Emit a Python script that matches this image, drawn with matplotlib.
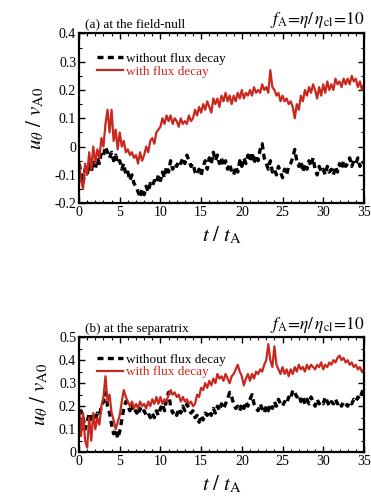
import matplotlib
matplotlib.use("Agg")
import matplotlib.pyplot as plt
from matplotlib.ticker import MultipleLocator
import numpy as np

plt.rcParams['font.family'] = ['Liberation Serif', 'DejaVu Serif']
plt.rcParams['mathtext.fontset'] = 'stix'

# (a) at the field-null, sampled every 0.25 t_A
null_with = [
    -0.05, -0.12, -0.15, -0.06,  -0.10, -0.02, -0.08, 0.00,
    -0.06, -0.01, -0.04, 0.03,   0.00, 0.08, 0.13, 0.05,
    0.13, 0.02, 0.06, -0.01,     0.05, 0.00, 0.02, -0.02,
    -0.01, -0.03, -0.02, -0.04,  -0.03, -0.06, -0.02, -0.05,
    -0.03, 0.00, -0.02, 0.02,    0.03, 0.01, 0.05, 0.06,
    0.07, 0.10, 0.08, 0.11,      0.09, 0.11, 0.08, 0.10,
    0.09, 0.07, 0.10, 0.08,      0.09, 0.08, 0.11, 0.09,
    0.10, 0.13, 0.11, 0.14,      0.12, 0.15, 0.13, 0.16,
    0.14, 0.12, 0.17, 0.15,      0.17, 0.14, 0.18, 0.16,
    0.19, 0.16, 0.18, 0.15,      0.18, 0.16, 0.19, 0.17,
    0.20, 0.17, 0.19, 0.18,      0.20, 0.18, 0.21, 0.19,
    0.20, 0.19, 0.22, 0.20,      0.21, 0.19, 0.27, 0.21,
    0.20, 0.18, 0.19, 0.16,      0.18, 0.16, 0.17, 0.15,
    0.16, 0.14, 0.10, 0.15,      0.13, 0.18, 0.16, 0.20,
    0.18, 0.21, 0.19, 0.22,      0.20, 0.17, 0.21, 0.18,
    0.22, 0.19, 0.23, 0.20,      0.22, 0.20, 0.24, 0.22,
    0.23, 0.21, 0.24, 0.22,      0.24, 0.22, 0.25, 0.23,
    0.24, 0.21, 0.23, 0.20,      0.22]
null_without = [
    -0.06, -0.09, -0.13, -0.08,  -0.10, -0.06, -0.09, -0.05,
    -0.08, -0.04, -0.06, -0.02,  -0.03, 0.00, -0.02, -0.04,
    -0.02, -0.05, -0.03, -0.06,  -0.05, -0.08, -0.06, -0.10,
    -0.09, -0.12, -0.10, -0.13,  -0.14, -0.16, -0.18, -0.15,
    -0.17, -0.14, -0.16, -0.13,  -0.14, -0.12, -0.13, -0.10,
    -0.12, -0.09, -0.11, -0.07,  -0.09, -0.05, -0.08, -0.06,
    -0.07, -0.05, -0.06, -0.04,  -0.06, -0.03, -0.05, -0.07,
    -0.06, -0.09, -0.10, -0.08,  -0.10, -0.07, -0.05, -0.08,
    -0.04, -0.06, -0.02, -0.05,  -0.03, -0.06, -0.04, -0.07,
    -0.05, -0.08, -0.06, -0.09,  -0.10, -0.07, -0.09, -0.05,
    -0.07, -0.04, -0.06, -0.03,  -0.05, -0.02, -0.06, -0.03,
    -0.05, -0.01, 0.01, -0.04,   -0.06, -0.08, -0.05, -0.09,
    -0.08, -0.10, -0.07, -0.09,  -0.11, -0.08, -0.10, -0.07,
    -0.06, -0.04, -0.01, -0.05,  -0.07, -0.05, -0.09, -0.06,
    -0.08, -0.05, -0.07, -0.04,  -0.08, -0.10, -0.07, -0.09,
    -0.08, -0.10, -0.07, -0.09,  -0.08, -0.10, -0.07, -0.09,
    -0.06, -0.08, -0.05, -0.07,  -0.06, -0.04, -0.07, -0.05,
    -0.06, -0.04, -0.07, -0.05,  -0.06]

# (b) at the separatrix
sep_with = [
    0.20, 0.07, 0.17, 0.05,  0.02, 0.15, 0.05, 0.17,
    0.10, 0.15, 0.12, 0.20,  0.24, 0.33, 0.22, 0.25,
    0.17, 0.14, 0.10, 0.13,  0.16, 0.22, 0.27, 0.24,
    0.22, 0.20, 0.22, 0.19,  0.21, 0.19, 0.22, 0.20,
    0.21, 0.19, 0.22, 0.20,  0.23, 0.21, 0.24, 0.21,
    0.24, 0.21, 0.23, 0.22,  0.25, 0.27, 0.25, 0.26,
    0.24, 0.25, 0.22, 0.24,  0.22, 0.23, 0.21, 0.22,
    0.20, 0.21, 0.25, 0.24,  0.28, 0.27, 0.30, 0.28,
    0.31, 0.29, 0.32, 0.30,  0.34, 0.32, 0.33, 0.31,
    0.34, 0.32, 0.30, 0.33,  0.34, 0.36, 0.38, 0.35,
    0.33, 0.29, 0.32, 0.34,  0.31, 0.34, 0.32, 0.35,
    0.34, 0.36, 0.35, 0.38,  0.40, 0.47, 0.40, 0.37,
    0.46, 0.38, 0.36, 0.34,  0.37, 0.34, 0.36, 0.33,
    0.36, 0.34, 0.37, 0.35,  0.38, 0.36, 0.37, 0.35,
    0.38, 0.36, 0.38, 0.37,  0.36, 0.38, 0.37, 0.39,
    0.36, 0.38, 0.37, 0.39,  0.38, 0.40, 0.39, 0.41,
    0.42, 0.40, 0.41, 0.39,  0.40, 0.38, 0.39, 0.37,
    0.38, 0.36, 0.37, 0.35,  0.36]
sep_without = [
    0.12, 0.18, 0.15, 0.10,  0.13, 0.17, 0.13, 0.16,
    0.14, 0.17, 0.16, 0.20,  0.22, 0.26, 0.20, 0.17,
    0.12, 0.08, 0.10, 0.06,  0.09, 0.14, 0.19, 0.22,
    0.20, 0.18, 0.21, 0.17,  0.18, 0.16, 0.19, 0.17,
    0.18, 0.16, 0.17, 0.15,  0.17, 0.15, 0.18, 0.16,
    0.19, 0.21, 0.18, 0.23,  0.26, 0.20, 0.17, 0.18,
    0.16, 0.19, 0.17, 0.20,  0.18, 0.21, 0.19, 0.17,
    0.18, 0.15, 0.16, 0.13,  0.16, 0.14, 0.17, 0.16,
    0.18, 0.16, 0.19, 0.17,  0.20, 0.18, 0.21, 0.19,
    0.21, 0.23, 0.26, 0.24,  0.21, 0.19, 0.20, 0.18,
    0.21, 0.19, 0.22, 0.20,  0.23, 0.25, 0.21, 0.19,
    0.18, 0.21, 0.19, 0.17,  0.20, 0.18, 0.21, 0.19,
    0.22, 0.20, 0.23, 0.21,  0.20, 0.22, 0.21, 0.24,
    0.23, 0.27, 0.26, 0.24,  0.25, 0.22, 0.24, 0.21,
    0.23, 0.21, 0.24, 0.22,  0.20, 0.23, 0.21, 0.22,
    0.21, 0.24, 0.22, 0.20,  0.22, 0.21, 0.23, 0.21,
    0.22, 0.20, 0.22, 0.21,  0.20, 0.22, 0.21, 0.23,
    0.22, 0.24, 0.23, 0.26,  0.28]

panels = [
    ("(a) at the field-null", null_without, null_with, (-0.2, 0.4)),
    ("(b) at the separatrix", sep_without, sep_with, (0.0, 0.5)),
]

RED = '#c8281e'

fig = plt.figure(figsize=(3.71, 4.98), dpi=100)
rects = [[0.213, 0.592, 0.768, 0.341], [0.213, 0.092, 0.768, 0.231]]

for rect, (title, wo, wi, ylim) in zip(rects, panels):
    ax = fig.add_axes(rect)
    t_wo = np.linspace(0, 35, len(wo))
    t_wi = np.linspace(0, 35, len(wi))
    ax.plot(t_wo, wo, color='black', lw=2.4, ls=(0, (1.8, 1.3)), label='without flux decay')
    ax.plot(t_wi, wi, color=RED, lw=1.6, label='with flux decay')

    ax.set_xlim(0, 35)
    ax.set_ylim(*ylim)
    ax.xaxis.set_major_locator(MultipleLocator(5))
    ax.xaxis.set_minor_locator(MultipleLocator(1))
    ax.yaxis.set_major_locator(MultipleLocator(0.1))
    ax.yaxis.set_minor_locator(MultipleLocator(0.05))
    ax.yaxis.set_major_formatter(plt.FuncFormatter(lambda v, p: '0' if abs(v) < 1e-9 else f'{v:.1f}'))
    ax.tick_params(which='both', direction='in', top=True, right=True, labelsize=10, pad=2)
    ax.tick_params(which='major', length=4, width=1)
    ax.tick_params(which='minor', length=2, width=0.8)
    for s in ax.spines.values():
        s.set_linewidth(1.6)

    ax.set_xlabel(r'$t\ /\ t_{\mathrm{A}}$', fontsize=15, labelpad=4)
    ax.set_ylabel(r'$u_{\theta}\ /\ v_{\mathrm{A0}}$', fontsize=15, labelpad=6)
    ax.text(0.02, 1.02, title, transform=ax.transAxes, fontsize=9.5, ha='left', va='bottom')
    ax.text(1.0, 1.02, r'$f_{\mathrm{A}}\!=\!\eta/\,\eta_{\mathrm{cl}}\!=\!10$', transform=ax.transAxes,
            fontsize=12.5, ha='right', va='bottom')

    leg = ax.legend(loc='upper left', bbox_to_anchor=(0.03, 0.94), frameon=False, fontsize=9.5,
                    handlelength=2.0, handletextpad=0.2, labelspacing=0.05, borderaxespad=0.3)
    for txt, line in zip(leg.get_texts(), leg.get_lines()):
        txt.set_color(line.get_color())

fig.savefig('out.png', dpi=100)
